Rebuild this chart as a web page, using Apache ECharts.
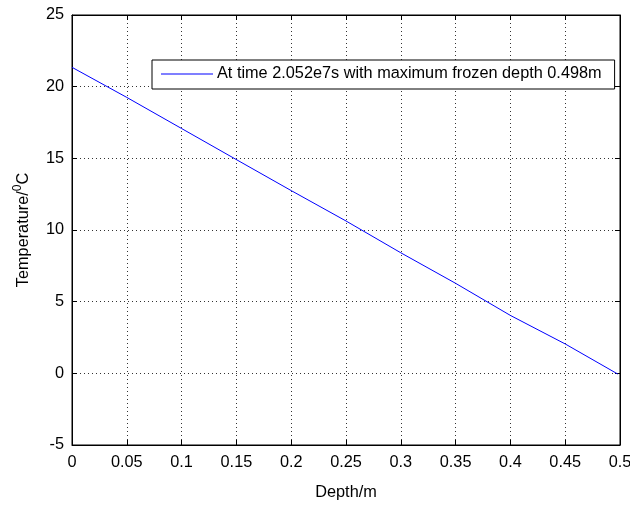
<!DOCTYPE html>
<html>
<head>
<meta charset="utf-8">
<script src="https://cdn.jsdelivr.net/npm/echarts@6/dist/echarts.min.js"></script>
<style>html,body{margin:0;padding:0;background:#fff}#c{width:630px;height:505px}</style>
</head>
<body>
<div id="c"></div>
<script>
const depth = [0, 0.05, 0.1, 0.15, 0.2, 0.25, 0.3, 0.35, 0.4, 0.45, 0.498];
const temperature = [21.35, 19.25, 17.08, 14.91, 12.75, 10.63, 8.41, 6.28, 4.04, 2.05, -0.05];
const seriesName = 'At time 2.052e7s with maximum frozen depth 0.498m';
const xName = 'Depth/m';
const font = '"Liberation Sans", Arial, sans-serif';
const fs = 16.3;

const chart = echarts.init(document.getElementById('c'), null, {renderer: 'canvas'});
const gridLine = {show: true, lineStyle: {color: '#333', width: 1, type: [1, 3]}};
const tick = {show: true, inside: true, length: 5, lineStyle: {color: '#000'}};
chart.setOption({
  backgroundColor: '#fff',
  animation: false,
  textStyle: {fontFamily: font, color: '#000'},
  grid: {left: 72, right: 10, top: 15, bottom: 60, show: true, borderColor: '#000', borderWidth: 1,
         backgroundColor: '#fff', outerBoundsMode: 'none', containLabel: false},
  legend: {
    show: true, left: 152, top: 60,
    data: [{name: seriesName, icon: 'rect'}],
    itemWidth: 52, itemHeight: 1, itemGap: 0,
    padding: [6, 13, 7, 9],
    itemStyle: {color: '#0000ff'},
    borderColor: '#000', borderWidth: 1, backgroundColor: '#fff',
    textStyle: {fontFamily: font, fontSize: fs, color: '#000', padding: [0,0,0,-1]}
  },
  xAxis: [{
    type: 'value', min: 0, max: 0.5, interval: 0.05,
    name: xName, nameLocation: 'middle', nameGap: 40,
    nameTextStyle: {fontFamily: font, fontSize: fs, color: '#000'},
    axisLine: {show: true, onZero: false, lineStyle: {color: '#000'}},
    axisTick: tick,
    axisLabel: {fontFamily: font, fontSize: fs, color: '#000', margin: 10},
    splitLine: gridLine
  }, {
    type: 'value', position: 'top', min: 0, max: 0.5, interval: 0.05,
    axisLine: {show: true, onZero: false, lineStyle: {color: '#000'}},
    axisTick: tick, axisLabel: {show: false}, splitLine: {show: false}
  }],
  yAxis: [{
    type: 'value', min: -5, max: 25, interval: 5,
    name: '{n|Temperature/}{s|0}{n|C}', nameLocation: 'middle', nameGap: 40, nameRotate: 90,
    nameTextStyle: {fontFamily: font, fontSize: fs, color: '#000',
      rich: {n: {fontFamily: font, fontSize: fs, color: '#000', verticalAlign: 'bottom', lineHeight: 20},
             s: {fontFamily: font, fontSize: 12, color: '#000', verticalAlign: 'top', lineHeight: 20}}},
    axisLine: {show: true, onZero: false, lineStyle: {color: '#000'}},
    axisTick: tick,
    axisLabel: {fontFamily: font, fontSize: fs, color: '#000', margin: 8},
    splitLine: gridLine
  }, {
    type: 'value', position: 'right', min: -5, max: 25, interval: 5,
    axisLine: {show: true, onZero: false, lineStyle: {color: '#000'}},
    axisTick: tick, axisLabel: {show: false}, splitLine: {show: false}
  }],
  series: [{
    name: seriesName, type: 'line', symbol: 'none', smooth: false,
    data: depth.map((d, i) => [d, temperature[i]]),
    lineStyle: {color: '#0000ff', width: 1}, itemStyle: {color: '#0000ff'}
  }]
});
</script>
</body>
</html>
